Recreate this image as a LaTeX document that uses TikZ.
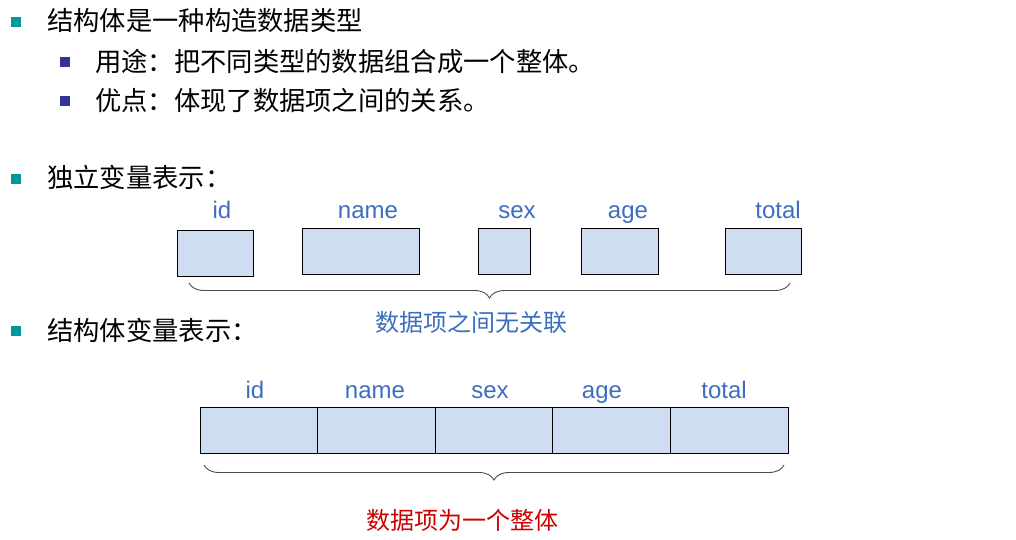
\documentclass[tikz,border=0pt]{standalone}
\usepackage{fontspec}
\setmainfont{Liberation Sans}
\newfontfamily\cjk{Noto Sans CJK SC}
\usetikzlibrary{positioning,decorations.pathreplacing}

\definecolor{bulteal}{RGB}{0,153,153}
\definecolor{bulnavy}{RGB}{51,51,153}
\definecolor{cellblue}{RGB}{207,221,242}
\definecolor{lblblue}{RGB}{61,110,190}
\definecolor{notered}{RGB}{204,0,0}

\begin{document}
\begin{tikzpicture}[x=1pt,y=-1pt,
    cell/.style={draw=black, fill=cellblue, line width=0.9pt, inner sep=0pt, outer sep=0pt, minimum height=46pt},
    lbl/.style={anchor=base, text=lblblue, inner sep=0pt, font=\fontsize{24}{26}\selectfont},
    line/.style={anchor=west, inner sep=0pt, font=\cjk\fontsize{26.3}{28}\selectfont},
    note/.style={inner sep=0pt, font=\cjk\fontsize{24}{26}\selectfont},
    bulA/.style={fill=bulteal, inner sep=0pt, minimum size=10pt},
    bulB/.style={fill=bulnavy, inner sep=0pt, minimum size=10pt},
    brace/.style={decorate, decoration={brace, amplitude=15pt, mirror}, line width=0.9pt, draw=black!70}]

\useasboundingbox (0,0) rectangle (1016,540);

% bullet lines
\node[bulA] (b1) at (16,22) {};
\node[line] (t1) at (47,21) {结构体是一种构造数据类型};
\node[bulB] (b2) at (65,62) {};
\node[line] (t2) at (95,61) {用途：把不同类型的数据组合成一个整体。};
\node[bulB] (b3) at (65,101) {};
\node[line] (t3) at (95,100) {优点：体现了数据项之间的关系。};
\node[bulA] (b4) at (16,179) {};
\node[line] (t4) at (47,177) {独立变量表示：};
\node[bulA] (b5) at (16,331) {};
\node[line] (t5) at (47,330) {结构体变量表示：};

% separate variables
\node[cell, minimum width=76pt] (id1) at (215.5,253.5) {};
\node[cell, minimum width=117pt] (name1) at (360.5,251.5) {};
\node[cell, minimum width=52pt] (sex1) at (504.5,251) {};
\node[cell, minimum width=77pt] (age1) at (620,251) {};
\node[cell, minimum width=76pt] (total1) at (763.5,251) {};

\node[lbl] (lid1) at (222,218) {id};
\node[lbl] (lname1) at (368,218) {name};
\node[lbl] (lsex1) at (517,218) {sex};
\node[lbl] (lage1) at (628,218) {age};
\node[lbl] (ltotal1) at (778,218) {total};

\coordinate (br1a) at (189,283);
\coordinate (br1b) at (790,283);
\draw[brace] (br1a) -- (br1b);
\node[note, text=lblblue] (n1) at (471,322) {数据项之间无关联};

% structure variable
\node[cell, minimum width=117.6pt] (id2) at (258.8,430) {};
\foreach \a/\b in {id2/name2,name2/sex2,sex2/age2,age2/total2}
    \node[cell, minimum width=117.6pt, right=0pt of \a] (\b) {};

\node[lbl] (lid2) at (255,398) {id};
\node[lbl] (lname2) at (375,398) {name};
\node[lbl] (lsex2) at (490,398) {sex};
\node[lbl] (lage2) at (602,398) {age};
\node[lbl] (ltotal2) at (724,398) {total};

\coordinate (br2a) at (204,465);
\coordinate (br2b) at (784,465);
\draw[brace] (br2a) -- (br2b);
\node[note, text=notered] (n2) at (462,520) {数据项为一个整体};

\end{tikzpicture}
\end{document}
